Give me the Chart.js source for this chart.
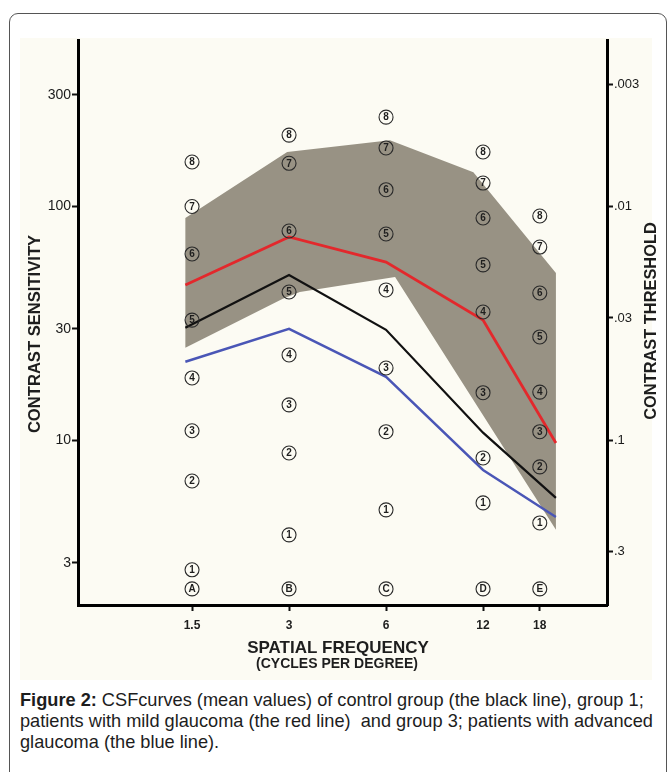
<!DOCTYPE html>
<html>
<head>
<meta charset="utf-8">
<script src="https://cdn.jsdelivr.net/npm/chart.js@4.4.0/dist/chart.umd.min.js"></script>
<style>
  html, body { margin: 0; padding: 0; background: #fff; overflow: hidden; }
  body { width: 668px; height: 772px; position: relative; font-family: "Liberation Sans", Arial, sans-serif; }
  .frame { position: absolute; left: 9px; top: 13px; width: 656px; height: 800px; border: 1px solid #555; border-radius: 9px; }
  .scan { position: absolute; left: 20px; top: 38px; width: 632px; height: 642px; background: #fcfbf3; }
  #csf { position: absolute; left: 0; top: 0; }
  .caption { position: absolute; left: 20px; top: 690px; font-size: 18.2px; line-height: 21px; color: #1d1d1d; white-space: nowrap; }
</style>
</head>
<body>
<div class="frame"></div>
<div class="scan"></div>
<canvas id="csf" width="668" height="690"></canvas>
<div class="caption"><b>Figure 2:</b> CSFcurves (mean values) of control group (the black line), group 1;<br>patients with mild glaucoma (the red line)&nbsp; and group 3; patients with advanced<br>glaucoma (the blue line).</div>
<script>
// axis ticks
const freqTicks = [1.5, 3, 6, 12, 18];
const sensitivityTicks = [3, 10, 30, 100, 300];
const thresholdTicks = [0.003, 0.01, 0.03, 0.1, 0.3];

// mean CSF curves (contrast sensitivity)
const lineFreqs = [1.43, 3, 6, 12, 20.2];
const controlGroup = [30.3, 51.0, 29.7, 10.8, 5.68];
const mildGlaucoma = [46.2, 74.1, 57.9, 32.7, 9.76];
const advancedGlaucoma = [21.7, 30.0, 18.7, 7.48, 4.71];

// normal range band (outline, clockwise)
const bandFreqs = [1.43, 2.96, 6.17, 11.2, 20.2, 20.2, 6.40, 3.24, 2.87, 1.43, 1.43];
const bandValues = [89.3, 171, 192, 140, 52.0, 4.15, 50.0, 43.1, 40.3, 24.9, 89.3];

// chart rows 1..8 for each column
const columnLetters = ['A', 'B', 'C', 'D', 'E'];
const columnA = [2.80, 6.71, 11.0, 18.5, 32.7, 62.7, 100, 155];
const columnB = [3.95, 8.84, 14.2, 23.2, 43.1, 78.6, 153, 202];
const columnC = [5.05, 10.9, 20.4, 44.0, 76.3, 118, 178, 241];
const columnD = [5.41, 8.42, 16.0, 35.4, 56.3, 89.3, 126, 171];
const columnE = [4.44, 7.71, 10.9, 16.1, 27.7, 42.7, 67.1, 91.1];
const letterRow = 2.32;

const columns = [columnA, columnB, columnC, columnD, columnE];
const marks = [];
columns.forEach((col, i) => {
    col.forEach((v, r) => marks.push({ x: freqTicks[i], y: v, t: String(r + 1) }));
    marks.push({ x: freqTicks[i], y: letterRow, t: columnLetters[i] });
});

const toPoints = (xs, ys) => xs.map((x, i) => ({ x: x, y: ys[i] }));

const circledMarks = {
    id: 'circledMarks',
    afterDatasetsDraw(chart) {
        const ctx = chart.ctx;
        chart.data.datasets.forEach((ds, i) => {
            if (!ds.circled) return;
            const meta = chart.getDatasetMeta(i);
            ctx.save();
            ctx.strokeStyle = '#2a2a2a';
            ctx.fillStyle = '#1e1e1e';
            ctx.lineWidth = 1.1;
            ctx.font = 'bold 10px "Liberation Sans", Arial, sans-serif';
            ctx.textAlign = 'center';
            ctx.textBaseline = 'middle';
            meta.data.forEach((pt, j) => {
                ctx.beginPath();
                ctx.arc(pt.x, pt.y, 7, 0, Math.PI * 2);
                ctx.stroke();
                ctx.fillText(ds.data[j].t, pt.x, pt.y + 0.5);
            });
            ctx.restore();
        });
    }
};

const axisTitles = {
    id: 'axisTitles',
    afterDraw(chart) {
        const ctx = chart.ctx;
        ctx.save();
        ctx.fillStyle = '#1e1e1e';
        ctx.textAlign = 'center';
        ctx.textBaseline = 'middle';
        ctx.font = 'bold 16.6px "Liberation Sans", Arial, sans-serif';
        ctx.save();
        ctx.translate(35, 334);
        ctx.rotate(-Math.PI / 2);
        ctx.fillText('CONTRAST SENSITIVITY', 0, 0);
        ctx.restore();
        ctx.font = 'bold 16.4px "Liberation Sans", Arial, sans-serif';
        ctx.save();
        ctx.translate(651, 321);
        ctx.rotate(-Math.PI / 2);
        ctx.fillText('CONTRAST THRESHOLD', 0, 0);
        ctx.restore();
        ctx.font = 'bold 17px "Liberation Sans", Arial, sans-serif';
        ctx.fillText('SPATIAL FREQUENCY', 338, 648);
        ctx.font = 'bold 14px "Liberation Sans", Arial, sans-serif';
        ctx.fillText('(CYCLES PER DEGREE)', 337, 664);
        ctx.restore();
    }
};

const tickGrid = { drawOnChartArea: false, drawTicks: true, tickLength: 6, tickColor: '#111', tickWidth: 2 };
const axisBorder = { display: true, color: '#000', width: 3 };

new Chart(document.getElementById('csf'), {
    type: 'scatter',
    data: {
        datasets: [
            {
                data: marks,
                circled: true,
                pointRadius: 0,
                order: 0
            },
            {
                type: 'line',
                label: 'Group 1 (mild glaucoma)',
                data: toPoints(lineFreqs, mildGlaucoma),
                borderColor: '#e3282c',
                borderWidth: 2.8,
                pointRadius: 0,
                tension: 0,
                fill: false,
                order: 1
            },
            {
                type: 'line',
                label: 'Control group',
                data: toPoints(lineFreqs, controlGroup),
                borderColor: '#111',
                borderWidth: 2.2,
                pointRadius: 0,
                tension: 0,
                fill: false,
                order: 1
            },
            {
                type: 'line',
                label: 'Group 3 (advanced glaucoma)',
                data: toPoints(lineFreqs, advancedGlaucoma),
                borderColor: '#4a56b6',
                borderWidth: 2.4,
                pointRadius: 0,
                tension: 0,
                fill: false,
                order: 1
            },
            {
                type: 'line',
                label: 'Normal range',
                data: toPoints(bandFreqs, bandValues),
                borderColor: 'rgba(0,0,0,0)',
                borderWidth: 0,
                backgroundColor: '#989284',
                pointRadius: 0,
                tension: 0,
                fill: 'shape',
                order: 5
            }
        ]
    },
    options: {
        responsive: false,
        animation: false,
        layout: { padding: { top: 40, left: 0, right: 0, bottom: 0 } },
        plugins: {
            legend: { display: false },
            tooltip: { enabled: false }
        },
        scales: {
            x: {
                type: 'logarithmic',
                min: 0.664,
                max: 29.1,
                afterFit: s => { s.height = 85; },
                afterBuildTicks: s => { s.ticks = freqTicks.map(v => ({ value: v })); },
                ticks: {
                    autoSkip: false,
                    maxRotation: 0,
                    padding: 7,
                    color: '#1e1e1e',
                    font: { family: '"Liberation Sans", Arial, sans-serif', size: 12, weight: 'bold' },
                    callback: v => String(v)
                },
                grid: tickGrid,
                border: axisBorder
            },
            y: {
                type: 'logarithmic',
                position: 'left',
                min: 1.98,
                max: 515,
                afterFit: s => { s.width = 78; },
                afterBuildTicks: s => { s.ticks = sensitivityTicks.map(v => ({ value: v })); },
                ticks: {
                    autoSkip: false,
                    padding: 1,
                    color: '#1a1a1a',
                    font: { family: '"Liberation Sans", Arial, sans-serif', size: 14 },
                    callback: v => String(v)
                },
                grid: tickGrid,
                border: axisBorder
            },
            y2: {
                type: 'logarithmic',
                position: 'right',
                reverse: true,
                min: 0.001936,
                max: 0.5087,
                afterFit: s => { s.width = 61; },
                afterBuildTicks: s => { s.ticks = thresholdTicks.map(v => ({ value: v })); },
                ticks: {
                    autoSkip: false,
                    padding: 1,
                    color: '#1a1a1a',
                    font: { family: '"Liberation Sans", Arial, sans-serif', size: 13 },
                    callback: v => String(v).replace('0.', '.')
                },
                grid: tickGrid,
                border: axisBorder
            }
        }
    },
    plugins: [circledMarks, axisTitles]
});
</script>
</body>
</html>
